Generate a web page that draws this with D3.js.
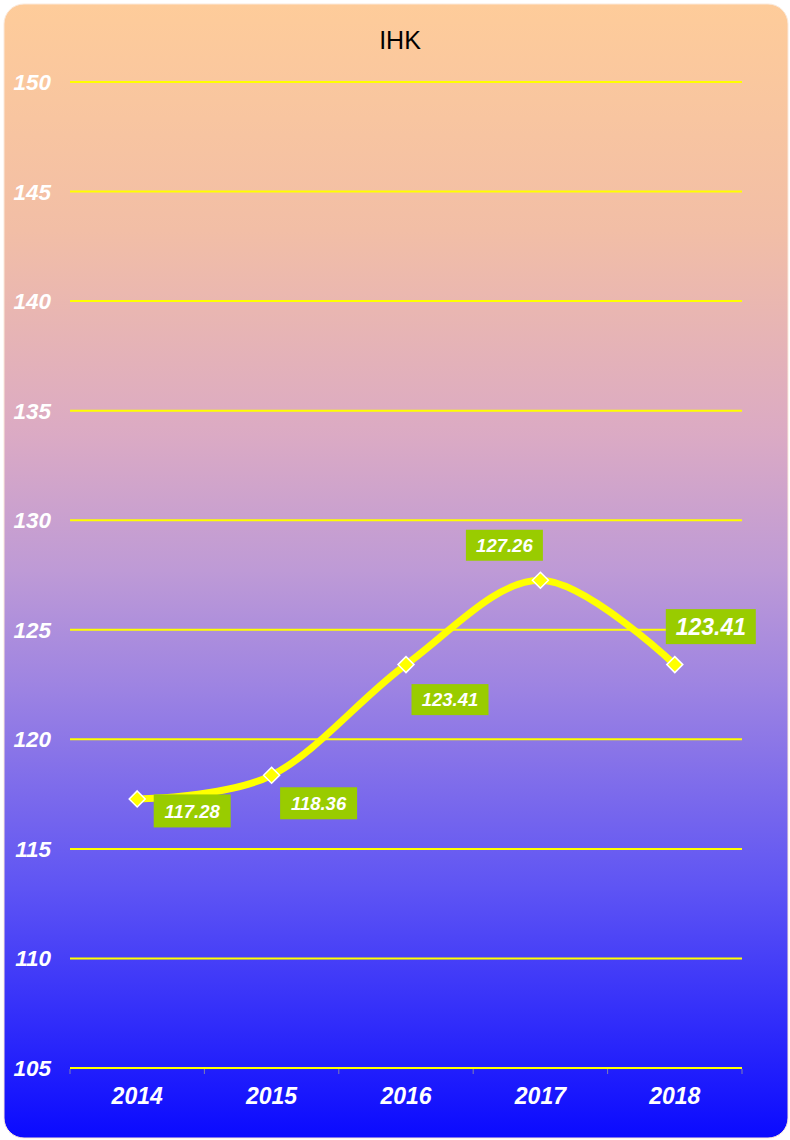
<!DOCTYPE html>
<html>
<head>
<meta charset="utf-8">
<script src="https://cdn.jsdelivr.net/npm/d3@7"></script>
<style>
  html, body { margin: 0; padding: 0; background: #ffffff; }
  svg { display: block; }
</style>
</head>
<body>
<svg id="chart" width="790" height="1140"></svg>
<script>
// IHK index by year
const years = ["2014", "2015", "2016", "2017", "2018"];
const ihk = [117.28, 118.36, 123.41, 127.26, 123.41];
const yTicks = [105, 110, 115, 120, 125, 130, 135, 140, 145, 150];
// label placement: offset of the label box centre from its point (dx, dy), font size, box size
const labelOffsets = [[55, 12], [47, 28], [44, 35], [-36, -35], [36, -38]];
const labelSizes = [18.5, 18.5, 18.5, 18.5, 23];
const labelBoxes = [[77, 33], [77, 32], [77, 31], [77, 31], [90, 35]];

const W = 790, H = 1140;
const plot = { left: 70, right: 742, top: 82, bottom: 1068 };
const FONT = "Liberation Sans, Arial, sans-serif";

const svg = d3.select("#chart");
const defs = svg.append("defs");

const grad = defs.append("linearGradient")
  .attr("id", "bg").attr("x1", 0).attr("y1", 0).attr("x2", 0).attr("y2", 1);
[[0, "#FECC9A"], [0.2, "#F2BEA6"], [0.38, "#DBAAC4"], [0.5, "#BE9AD6"],
 [0.6, "#9E84E2"], [0.78, "#5E54F4"], [1, "#0A0AFF"]]
  .forEach(([o, c]) => grad.append("stop").attr("offset", o).attr("stop-color", c));

svg.append("rect")
  .attr("x", 4).attr("y", 4).attr("width", 784).attr("height", 1134)
  .attr("rx", 20).attr("ry", 20)
  .attr("fill", "url(#bg)")
  .attr("stroke", "#FBE9DA").attr("stroke-width", 1);

const x = d3.scaleBand().domain(years).range([plot.left, plot.right]);
const y = d3.scaleLinear().domain([105, 150]).range([plot.bottom, plot.top]);

// title
svg.append("text")
  .attr("x", 400).attr("y", 49)
  .attr("text-anchor", "middle")
  .attr("font-family", FONT)
  .attr("font-size", 25)
  .attr("fill", "#000")
  .text("IHK");

// horizontal grid lines
svg.append("g").selectAll("line")
  .data(yTicks)
  .join("line")
  .attr("x1", plot.left).attr("x2", plot.right)
  .attr("y1", d => y(d)).attr("y2", d => y(d))
  .attr("stroke", "#FFFF00").attr("stroke-width", 2);

// y axis labels
svg.append("g").selectAll("text")
  .data(yTicks)
  .join("text")
  .attr("x", 51).attr("y", d => y(d) + 8)
  .attr("text-anchor", "end")
  .attr("font-family", FONT)
  .attr("font-size", 22.5).attr("font-weight", "bold").attr("font-style", "italic")
  .attr("fill", "#ffffff")
  .text(d => d);

// x axis tick marks at band boundaries
const bounds = years.map(d => x(d)).concat([plot.right]);
svg.append("g").selectAll("line")
  .data(bounds)
  .join("line")
  .attr("x1", d => d).attr("x2", d => d)
  .attr("y1", plot.bottom + 1).attr("y2", plot.bottom + 6)
  .attr("stroke", "#8080B0").attr("stroke-width", 1);

// x axis labels
svg.append("g").selectAll("text")
  .data(years)
  .join("text")
  .attr("x", d => x(d) + x.bandwidth() / 2)
  .attr("y", 1104)
  .attr("text-anchor", "middle")
  .attr("font-family", FONT)
  .attr("font-size", 23).attr("font-weight", "bold").attr("font-style", "italic")
  .attr("fill", "#ffffff")
  .text(d => d);

const pts = years.map((d, i) => [x(d) + x.bandwidth() / 2, y(ihk[i])]);

// smoothed line
svg.append("path")
  .attr("d", d3.line().curve(d3.curveCardinal.tension(0))(pts))
  .attr("fill", "none")
  .attr("stroke", "#FFFF00")
  .attr("stroke-width", 7)
  .attr("stroke-linecap", "round");

// diamond markers
svg.append("g").selectAll("path")
  .data(pts)
  .join("path")
  .attr("transform", p => `translate(${p[0]},${p[1]})`)
  .attr("d", "M0,-8L8,0L0,8L-8,0Z")
  .attr("fill", "#FFFF00")
  .attr("stroke", "#ffffff").attr("stroke-width", 1.5);

// value labels on green boxes
const lbl = svg.append("g").selectAll("g")
  .data(ihk)
  .join("g")
  .attr("transform", (d, i) => `translate(${pts[i][0] + labelOffsets[i][0]},${pts[i][1] + labelOffsets[i][1]})`);

lbl.append("rect")
  .attr("x", (d, i) => -labelBoxes[i][0] / 2)
  .attr("y", (d, i) => -labelBoxes[i][1] / 2)
  .attr("width", (d, i) => labelBoxes[i][0])
  .attr("height", (d, i) => labelBoxes[i][1])
  .attr("fill", "#99CC00");

lbl.append("text")
  .attr("text-anchor", "middle")
  .attr("dy", (d, i) => labelSizes[i] * 0.36)
  .attr("font-family", FONT)
  .attr("font-size", (d, i) => labelSizes[i])
  .attr("font-weight", "bold").attr("font-style", "italic")
  .attr("fill", "#ffffff")
  .text(d => d.toFixed(2));
</script>
</body>
</html>
